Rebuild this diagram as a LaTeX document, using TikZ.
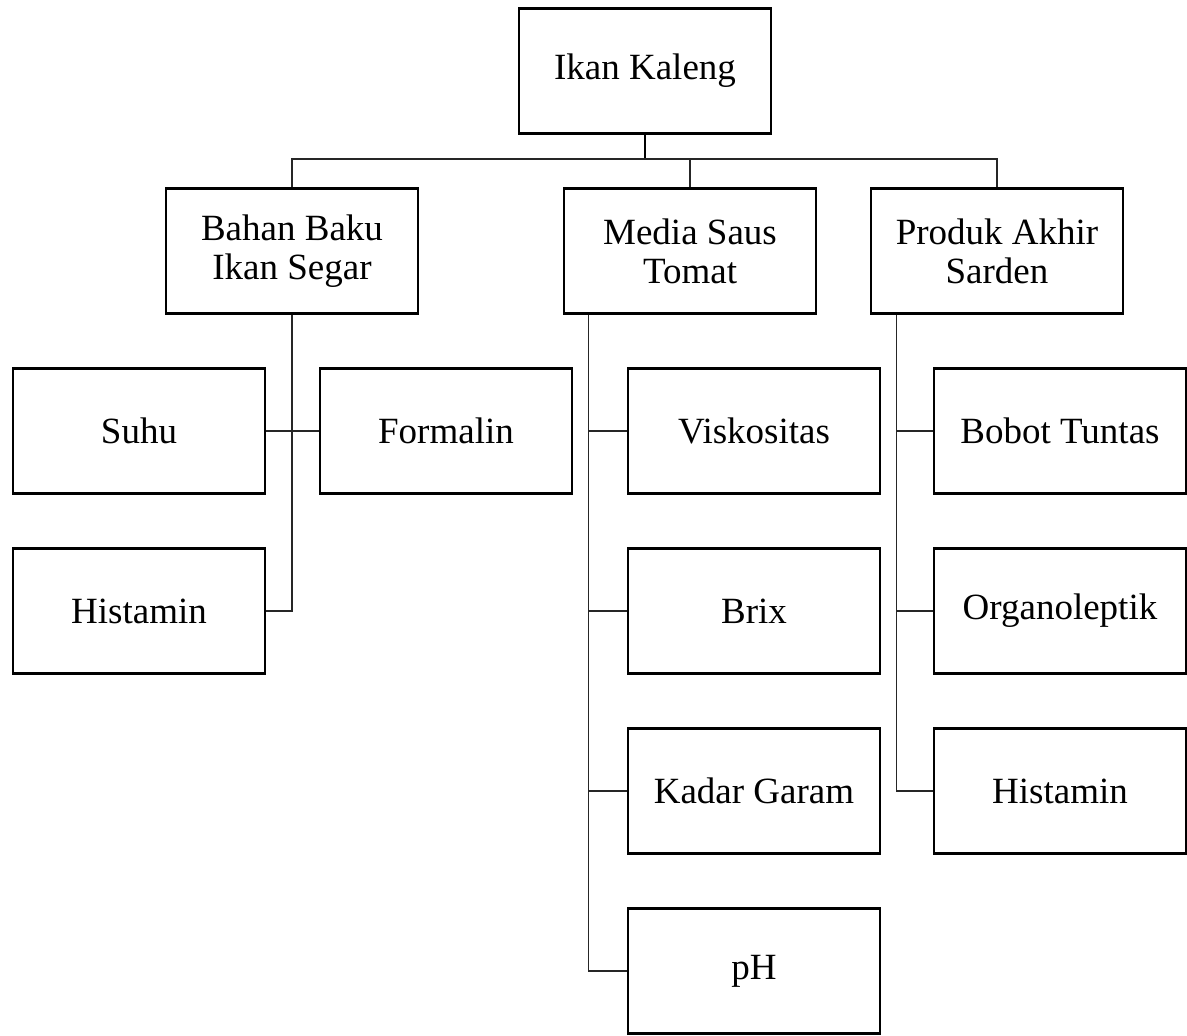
\documentclass[tikz,border=0pt]{standalone}
\usepackage{fontspec}
\setmainfont{Liberation Serif}
\begin{document}
\begin{tikzpicture}[x=1pt,y=-1pt,
  box/.style={draw=black,line width=2.6pt,minimum width=252pt,minimum height=125pt,
    align=center,inner sep=0pt,font=\fontsize{37}{39}\selectfont},
  conn/.style={line width=1.3pt,draw=black!85}]
\useasboundingbox (0,0) rectangle (1187,1036);
\node[box] (top) at (645,71) {Ikan Kaleng};
\node[box] (bb) at (292,251) {Bahan Baku\\Ikan Segar};
\node[box] (ms) at (690,251) {Media Saus\\Tomat};
\node[box] (pa) at (997,251) {Produk Akhir\\Sarden};
\node[box] (suhu) at (139,431) {Suhu};
\node[box] (form) at (446,431) {Formalin};
\node[box] (hist1) at (139,611) {Histamin};
\node[box] (visk) at (754,431) {Viskositas};
\node[box] (brix) at (754,611) {Brix};
\node[box] (kadar) at (754,791) {Kadar Garam};
\node[box] (ph) at (754,971) {pH};
\node[box] (bobot) at (1060,431) {Bobot Tuntas};
\node[box] (org) at (1060,611) {Organoleptik};
\node[box] (hist2) at (1060,791) {Histamin};
% top bus
\coordinate (bus) at (645,159);
\draw[line width=2pt] (top.south) -- (bus);
\draw[conn] (bb.north) -- (bb.north |- bus) -- (pa.north |- bus) -- (pa.north);
\draw[conn] (ms.north |- bus) -- (ms.north);
% Bahan baku
\draw[conn] (bb.south) |- (hist1.east);
\draw[conn] (suhu.east) -- (form.west);
% Media saus
\draw[conn] ([xshift=26pt]ms.south west) |- (ph.west);
\draw[conn] ([xshift=26pt]ms.south west) |- (visk.west);
\draw[conn] ([xshift=26pt]ms.south west) |- (brix.west);
\draw[conn] ([xshift=26pt]ms.south west) |- (kadar.west);
% Produk akhir
\draw[conn] ([xshift=27pt]pa.south west) |- (hist2.west);
\draw[conn] ([xshift=27pt]pa.south west) |- (bobot.west);
\draw[conn] ([xshift=27pt]pa.south west) |- (org.west);
\end{tikzpicture}
\end{document}
